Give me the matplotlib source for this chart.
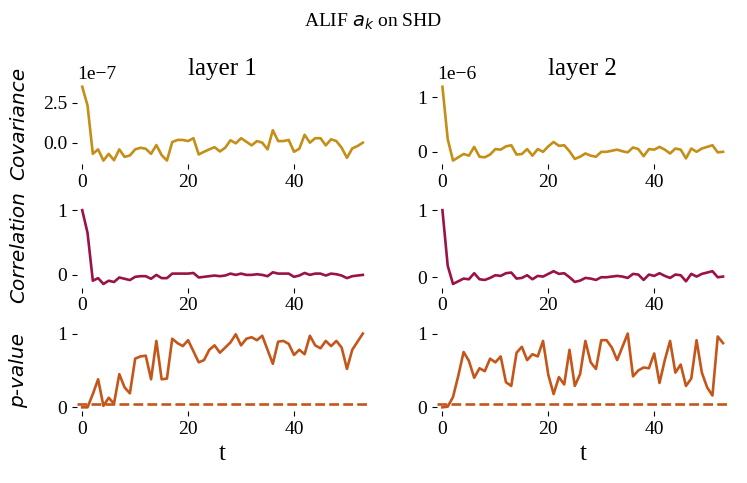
import matplotlib
matplotlib.use("Agg")
import matplotlib.pyplot as plt

plt.rcParams["font.family"] = ["Liberation Serif", "DejaVu Serif"]

t = list(range(54))

# covariance, layer 1 (x1e-7) and layer 2 (x1e-6)
cov1 = [3.5, 2.33, -0.7, -0.42, -1.12, -0.7, -1.1, -0.42, -0.89, -0.8,
        -0.42, -0.32, -0.38, -0.7, -0.15, -0.78, -1.12, 0.04, 0.17, 0.17,
        0.1, 0.28, -0.74, -0.57, -0.42, -0.28, -0.55, -0.32, 0.15, -0.04,
        0.28, 0.06, -0.17, 0.1, 0.0, -0.42, 0.78, 0.1, 0.1, 0.17,
        -0.57, -0.38, 0.49, 0.0, 0.28, 0.28, -0.17, 0.21, 0.1, -0.32,
        -0.95, -0.36, -0.21, 0.0]
cov2 = [1.19, 0.23, -0.16, -0.10, -0.04, -0.07, 0.09, -0.09, -0.10, -0.05,
        0.05, 0.04, 0.10, 0.12, -0.05, -0.04, 0.05, -0.07, 0.05, 0.0,
        0.10, 0.18, 0.11, 0.12, 0.01, -0.13, -0.09, -0.03, -0.07, -0.09,
        0.0, 0.0, 0.02, 0.04, 0.01, -0.01, 0.08, 0.05, -0.08, 0.05,
        0.04, 0.09, 0.04, -0.03, 0.06, 0.04, -0.12, 0.06, 0.0, 0.06,
        0.09, 0.12, -0.01, 0.0]

corr1 = [1.0, 0.65, -0.09, -0.05, -0.14, -0.09, -0.11, -0.04, -0.06, -0.08,
         -0.03, -0.02, -0.02, -0.06, 0.0, -0.05, -0.05, 0.02, 0.02, 0.02,
         0.02, 0.03, -0.04, -0.03, -0.02, -0.01, -0.02, -0.01, 0.02, 0.0,
         0.02, 0.0, 0.0, 0.01, 0.0, -0.02, 0.04, 0.02, 0.02, 0.02,
         -0.03, -0.01, 0.03, 0.0, 0.02, 0.02, -0.01, 0.02, 0.01, -0.01,
         -0.05, -0.02, -0.01, 0.0]
corr2 = [1.0, 0.17, -0.10, -0.06, -0.02, -0.03, 0.06, -0.03, -0.04, -0.01,
         0.03, 0.02, 0.06, 0.07, -0.02, -0.01, 0.03, -0.03, 0.02, 0.01,
         0.05, 0.09, 0.05, 0.06, 0.0, -0.07, -0.05, -0.01, -0.02, -0.04,
         0.0, 0.0, 0.01, 0.02, 0.01, -0.01, 0.05, 0.04, -0.04, 0.04,
         0.02, 0.06, 0.02, -0.01, 0.04, 0.03, -0.06, 0.05, 0.01, 0.05,
         0.07, 0.09, 0.0, 0.01]

pval1 = [0.0, 0.0, 0.18, 0.38, 0.02, 0.13, 0.05, 0.45, 0.27, 0.19,
         0.66, 0.69, 0.70, 0.38, 0.90, 0.38, 0.39, 0.93, 0.87, 0.83,
         0.91, 0.76, 0.61, 0.64, 0.78, 0.84, 0.74, 0.81, 0.88, 0.99,
         0.84, 0.93, 0.95, 0.91, 0.97, 0.78, 0.59, 0.89, 0.90, 0.86,
         0.71, 0.78, 0.72, 0.97, 0.84, 0.80, 0.90, 0.83, 0.90, 0.81,
         0.52, 0.78, 0.89, 1.0]
pval2 = [0.0, 0.01, 0.14, 0.43, 0.75, 0.63, 0.40, 0.53, 0.49, 0.66,
         0.61, 0.69, 0.34, 0.29, 0.74, 0.82, 0.64, 0.72, 0.69, 0.90,
         0.44, 0.18, 0.41, 0.31, 0.78, 0.29, 0.45, 0.90, 0.61, 0.52,
         0.91, 0.91, 0.81, 0.64, 0.82, 1.0, 0.42, 0.50, 0.54, 0.53,
         0.73, 0.33, 0.64, 0.90, 0.47, 0.58, 0.29, 0.39, 0.91, 0.47,
         0.27, 0.16, 0.96, 0.87]

alpha = 0.05

col_cov = "#c48e17"
col_corr = "#9b1246"
col_p = "#c4561a"

fig, axes = plt.subplots(3, 2, figsize=(7.47, 4.83), dpi=100)
fig.subplots_adjust(left=0.103, right=0.975, top=0.828, bottom=0.149,
                    wspace=0.237, hspace=0.52)

rows = [
    ([[v * 1e-7 for v in cov1], [v * 1e-6 for v in cov2]], col_cov, "Covariance",
     [[0, 2.5e-7], [0, 1e-6]]),
    ([corr1, corr2], col_corr, "Correlation", [[0, 1], [0, 1]]),
    ([pval1, pval2], col_p, "p-value", [[0, 1], [0, 1]]),
]

for r, (series, color, label, yt) in enumerate(rows):
    for c in range(2):
        ax = axes[r, c]
        ax.plot(t, series[c], color=color, lw=1.9)
        if r == 2:
            ax.axhline(alpha, color=col_p, lw=1.9, ls="--")
        ax.set_xlim(-1, 54)
        ax.set_xticks([0, 20, 40])
        ax.set_yticks(yt[c])
        for s in ax.spines.values():
            s.set_visible(False)
        ax.tick_params(labelsize=14, length=3.5)
        ax.yaxis.get_offset_text().set_fontsize(14)
        if c == 0:
            ax.set_ylabel(label, fontsize=14.5, family="DejaVu Sans",
                          style="italic")
            ax.yaxis.set_label_coords(-0.168, 0.5)
        if r == 0:
            ax.set_title("layer %d" % (c + 1), fontsize=18)
        if r == 2:
            ax.set_xlabel("t", fontsize=18)

fig.suptitle("ALIF $a_k$ on SHD", fontsize=14, y=0.975)
fig.savefig("out.png", dpi=100)
